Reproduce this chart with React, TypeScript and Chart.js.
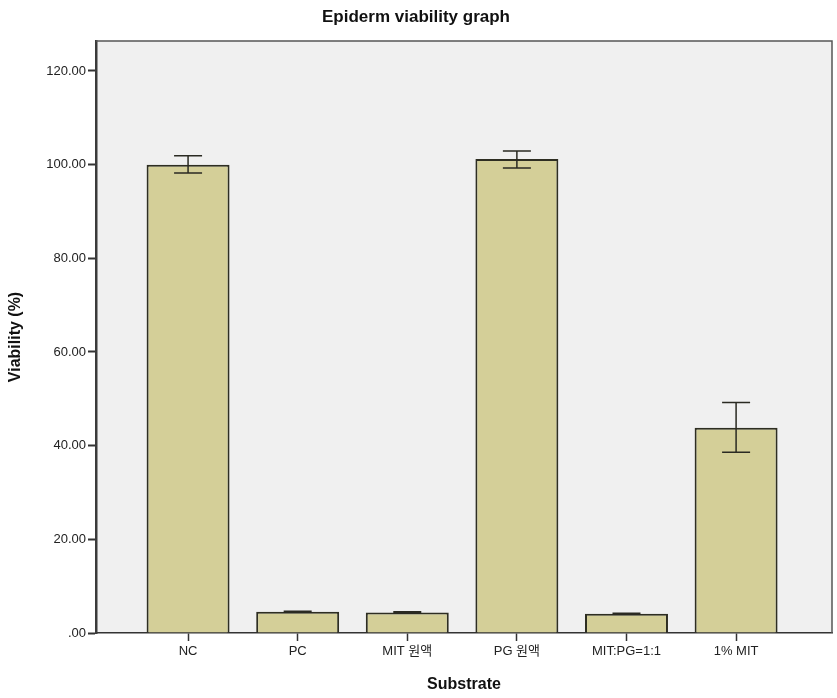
import React, { useEffect, useRef } from "react";
import { Chart, registerables } from "chart.js";

Chart.register(...registerables);

const categories = ["NC", "PC", "MIT 원액", "PG 원액", "MIT:PG=1:1", "1% MIT"];
const viability = [100.0, 4.55, 4.4, 101.2, 4.1, 43.8];
const errLow = [98.2, 4.45, 4.28, 99.3, 3.98, 38.6];
const errHigh = [101.9, 4.65, 4.52, 102.9, 4.22, 49.2];
const yTicks = [0, 20, 40, 60, 80, 100, 120];

const errorBarPlugin = {
  id: "errorBars",
  afterDatasetsDraw(chart: any) {
    const { ctx, scales } = chart;
    const xs = scales.x;
    const ys = scales.y;
    ctx.save();
    ctx.strokeStyle = "#2a2a22";
    ctx.lineWidth = 1.5;
    viability.forEach((_, i) => {
      const x = xs.getPixelForValue(i);
      const y1 = ys.getPixelForValue(errLow[i]);
      const y2 = ys.getPixelForValue(errHigh[i]);
      const half = 14;
      ctx.beginPath();
      ctx.moveTo(x, y1);
      ctx.lineTo(x, y2);
      ctx.moveTo(x - half, y1);
      ctx.lineTo(x + half, y1);
      ctx.moveTo(x - half, y2);
      ctx.lineTo(x + half, y2);
      ctx.stroke();
    });
    ctx.restore();
  },
};

const framePlugin = {
  id: "frame",
  beforeDraw(chart: any) {
    const { ctx, chartArea: a } = chart;
    ctx.save();
    ctx.fillStyle = "#f0f0f0";
    ctx.fillRect(a.left, a.top, a.right - a.left, a.bottom - a.top);
    ctx.restore();
  },
  afterDraw(chart: any) {
    const { ctx, chartArea: a } = chart;
    ctx.save();
    ctx.strokeStyle = "#555555";
    ctx.lineWidth = 1.5;
    ctx.beginPath();
    ctx.moveTo(a.left, a.top);
    ctx.lineTo(a.right, a.top);
    ctx.lineTo(a.right, a.bottom);
    ctx.stroke();
    ctx.restore();
  },
};

export default function App() {
  const ref = useRef<HTMLCanvasElement | null>(null);

  useEffect(() => {
    document.body.style.margin = "0";
    const canvas = ref.current;
    if (!canvas) return;
    const font = "'Liberation Sans', Arial, 'Noto Sans CJK KR', sans-serif";
    const chart = new Chart(canvas, {
      type: "bar",
      data: {
        datasets: [
          {
            data: viability.map((v, i) => ({ x: i, y: v })),
            backgroundColor: "#d4cf98",
            borderColor: "#2e2e22",
            borderWidth: 2,
            categoryPercentage: 1,
            barPercentage: 0.757,
          } as any,
        ],
      },
      options: {
        animation: false,
        responsive: false,
        devicePixelRatio: 1,
        layout: { padding: { left: 0, right: 5, top: 0, bottom: 0 } },
        plugins: {
          legend: { display: false },
          tooltip: { enabled: false },
          title: {
            display: true,
            text: "Epiderm viability graph",
            color: "#111",
            font: { family: font, size: 17, weight: "bold" },
            padding: { top: 7, bottom: 13.6 },
          },
        },
        scales: {
          x: {
            type: "linear",
            offset: false,
            min: -0.84,
            max: 5.875,
            afterBuildTicks: (axis: any) => {
              axis.ticks = categories.map((_, i) => ({ value: i }));
            },
            afterFit: (scale: any) => {
              scale.height = 65;
            },
            ticks: {
              autoSkip: false,
              maxRotation: 0,
              padding: 3,
              color: "#222",
              font: { family: font, size: 13 },
              callback: (v: any) => categories[Math.round(Number(v))] ?? "",
            },
            grid: {
              offset: false,
              drawOnChartArea: false,
              drawTicks: true,
              tickLength: 8,
              tickColor: "#333",
              tickWidth: 1.5,
            },
            border: { display: true, color: "#333", width: 1.5 },
            title: {
              display: true,
              text: "Substrate",
              color: "#111",
              font: { family: font, size: 16, weight: "bold" },
              padding: { top: 0, bottom: 4 },
            },
          } as any,
          y: {
            type: "linear",
            min: 0,
            max: 126.4,
            afterBuildTicks: (axis: any) => {
              axis.ticks = yTicks.map((v) => ({ value: v }));
            },
            afterFit: (scale: any) => {
              scale.width = 96;
            },
            ticks: {
              padding: 2,
              color: "#222",
              font: { family: font, size: 13 },
              callback: (v: any) => (Number(v) === 0 ? ".00" : Number(v).toFixed(2)),
            },
            grid: {
              drawOnChartArea: false,
              drawTicks: true,
              tickLength: 8,
              tickColor: "#333",
              tickWidth: 2,
            },
            border: { display: true, color: "#3a3a3a", width: 2.5 },
            title: {
              display: true,
              text: "Viability (%)",
              color: "#111",
              font: { family: font, size: 16, weight: "bold" },
              padding: { top: 6, bottom: 0 },
            },
          } as any,
        },
      },
      plugins: [framePlugin, errorBarPlugin],
    });
    return () => chart.destroy();
  }, []);

  return (
    <div style={{ width: 837, height: 698, background: "#fff" }}>
      <canvas ref={ref} width={837} height={698} style={{ display: "block" }} />
    </div>
  );
}
